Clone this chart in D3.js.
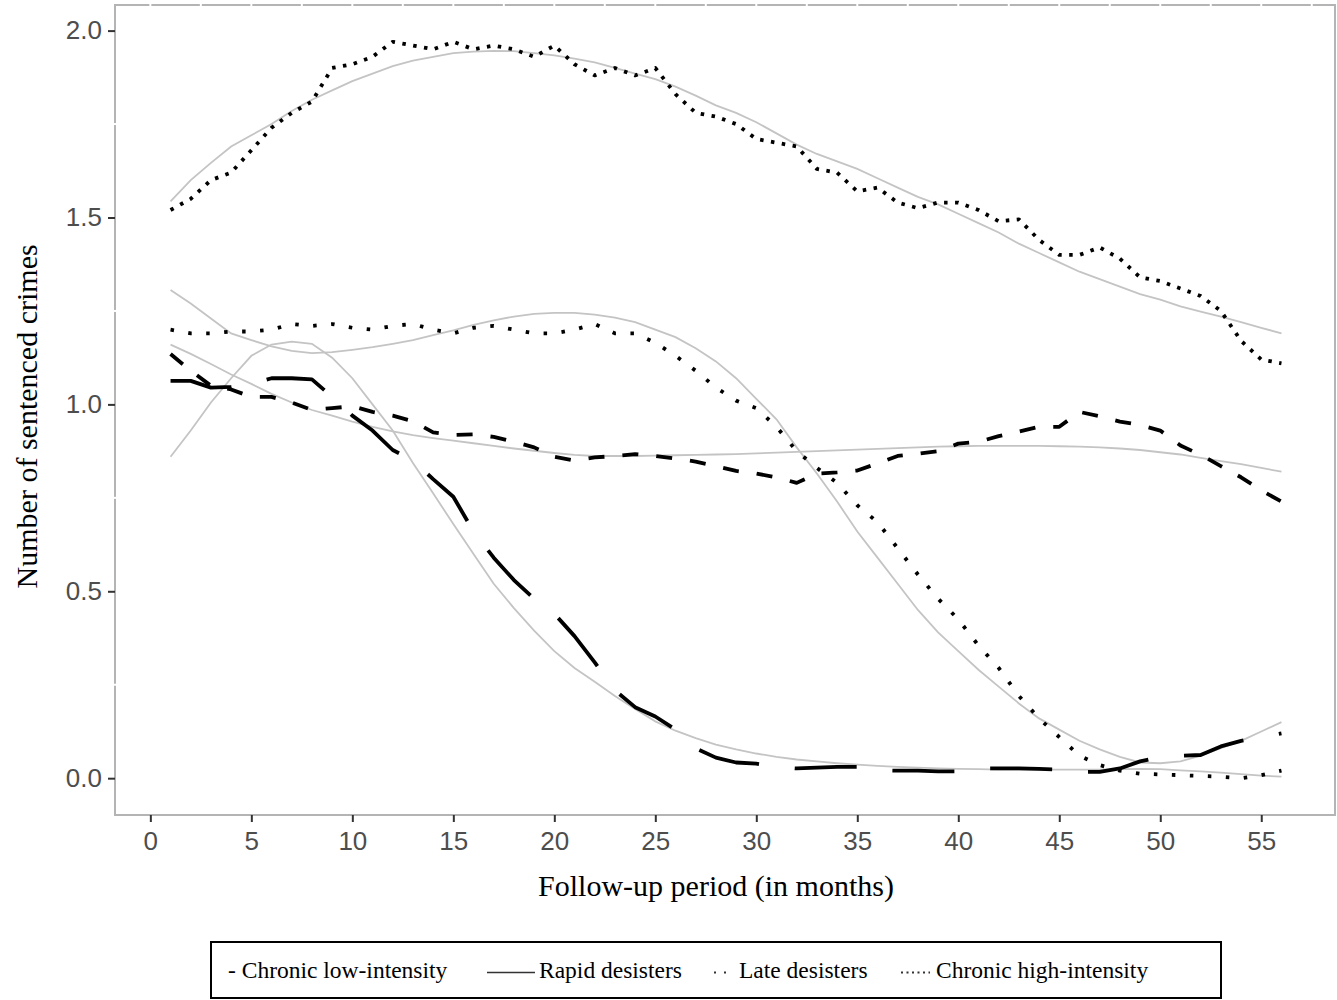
<!DOCTYPE html>
<html>
<head>
<meta charset="utf-8">
<script src="https://cdn.jsdelivr.net/npm/d3@7"></script>
<style>
  body { margin: 0; background: #fff; }
  svg { display: block; }
</style>
</head>
<body>
<svg id="chart" width="1337" height="1000"></svg>
<script>
// Data
const months = [1, 2, 3, 4, 5, 6, 7, 8, 9, 10, 11, 12, 13, 14, 15, 16, 17, 18, 19, 20,
  21, 22, 23, 24, 25, 26, 27, 28, 29, 30, 31, 32, 33, 34, 35, 36, 37, 38, 39, 40,
  41, 42, 43, 44, 45, 46, 47, 48, 49, 50, 51, 52, 53, 54, 55, 56];

const chronicLow = [1.135, 1.09, 1.05, 1.04, 1.02, 1.02, 1.005, 0.985, 0.99, 0.995,
  0.98, 0.97, 0.955, 0.925, 0.918, 0.92, 0.913, 0.90, 0.885, 0.86,
  0.85, 0.858, 0.862, 0.867, 0.862, 0.855, 0.847, 0.835, 0.822, 0.815,
  0.805, 0.79, 0.815, 0.818, 0.823, 0.842, 0.862, 0.868, 0.875, 0.895,
  0.90, 0.915, 0.927, 0.94, 0.94, 0.98, 0.968, 0.954, 0.945, 0.93,
  0.89, 0.865, 0.835, 0.805, 0.77, 0.74];

const rapidDesisters = [1.063, 1.063, 1.045, 1.047, 1.055, 1.07, 1.07, 1.067, 1.02, 0.97,
  0.93, 0.878, 0.85, 0.80, 0.753, 0.66, 0.59, 0.53, 0.48, 0.44,
  0.38, 0.31, 0.235, 0.19, 0.165, 0.13, 0.08, 0.055, 0.042, 0.039,
  0.03, 0.026, 0.028, 0.03, 0.03, 0.021, 0.02, 0.02, 0.018, 0.018,
  0.026, 0.026, 0.026, 0.025, 0.023, 0.017, 0.017, 0.026, 0.045, 0.057,
  0.06, 0.062, 0.085, 0.10, 0.11, 0.12];

const lateDesisters = [1.20, 1.19, 1.19, 1.195, 1.195, 1.20, 1.215, 1.21, 1.215, 1.205,
  1.20, 1.21, 1.215, 1.20, 1.19, 1.205, 1.21, 1.20, 1.19, 1.19,
  1.20, 1.215, 1.19, 1.19, 1.165, 1.13, 1.09, 1.045, 1.01, 0.99,
  0.94, 0.875, 0.83, 0.79, 0.73, 0.685, 0.615, 0.545, 0.48, 0.425,
  0.355, 0.295, 0.22, 0.16, 0.11, 0.06, 0.035, 0.02, 0.012, 0.01,
  0.008, 0.006, 0.004, 0.0, 0.008, 0.02];

const chronicHigh = [1.52, 1.55, 1.60, 1.62, 1.68, 1.74, 1.78, 1.81, 1.90, 1.91,
  1.93, 1.97, 1.96, 1.95, 1.97, 1.95, 1.96, 1.95, 1.93, 1.96,
  1.91, 1.88, 1.90, 1.88, 1.90, 1.83, 1.78, 1.77, 1.75, 1.71,
  1.70, 1.69, 1.63, 1.62, 1.57, 1.58, 1.54, 1.525, 1.54, 1.54,
  1.52, 1.49, 1.495, 1.44, 1.40, 1.40, 1.42, 1.39, 1.34, 1.33,
  1.31, 1.29, 1.25, 1.17, 1.12, 1.11];

// smoothed (gray) fits
const fitLow = [1.16, 1.135, 1.108, 1.08, 1.055, 1.028, 1.005, 0.985, 0.97, 0.954,
  0.94, 0.928, 0.918, 0.91, 0.903, 0.896, 0.889, 0.882, 0.876, 0.87,
  0.865, 0.862, 0.862, 0.862, 0.863, 0.864, 0.865, 0.866, 0.867, 0.869,
  0.871, 0.873, 0.875, 0.877, 0.879, 0.881, 0.883, 0.885, 0.887, 0.888,
  0.889, 0.889, 0.889, 0.889, 0.888, 0.887, 0.885, 0.882, 0.878, 0.872,
  0.866, 0.857, 0.848, 0.84, 0.83, 0.82];

const fitRapid = [0.86, 0.93, 1.005, 1.07, 1.13, 1.16, 1.168, 1.162, 1.125, 1.07,
  1.0, 0.93, 0.843, 0.762, 0.68, 0.60, 0.52, 0.455, 0.395, 0.34,
  0.295, 0.258, 0.22, 0.185, 0.152, 0.127, 0.107, 0.09, 0.077, 0.066,
  0.057, 0.05, 0.045, 0.04, 0.036, 0.033, 0.03, 0.028, 0.026, 0.025,
  0.024, 0.023, 0.023, 0.023, 0.023, 0.023, 0.023, 0.024, 0.025, 0.024,
  0.021, 0.018, 0.015, 0.011, 0.007, 0.004];

const fitLate = [1.306, 1.27, 1.23, 1.19, 1.172, 1.155, 1.143, 1.137, 1.14, 1.146,
  1.153, 1.162, 1.172, 1.185, 1.198, 1.213, 1.225, 1.235, 1.242, 1.245,
  1.245, 1.24, 1.232, 1.22, 1.2, 1.18, 1.15, 1.115, 1.07, 1.015,
  0.96, 0.885, 0.815, 0.74, 0.66, 0.59, 0.52, 0.45, 0.39, 0.34,
  0.29, 0.245, 0.2, 0.16, 0.13, 0.1, 0.077, 0.057, 0.042, 0.04,
  0.045, 0.06, 0.08, 0.1, 0.125, 0.15];

const fitHigh = [1.543, 1.60, 1.646, 1.69, 1.72, 1.75, 1.785, 1.815, 1.84, 1.865,
  1.885, 1.905, 1.92, 1.93, 1.94, 1.944, 1.946, 1.945, 1.94, 1.934,
  1.925, 1.915, 1.90, 1.885, 1.87, 1.85, 1.826, 1.80, 1.78, 1.755,
  1.725, 1.695, 1.67, 1.65, 1.63, 1.605, 1.58, 1.555, 1.535, 1.51,
  1.485, 1.46, 1.43, 1.405, 1.38, 1.355, 1.335, 1.315, 1.295, 1.28,
  1.262, 1.248, 1.235, 1.22, 1.205, 1.19];

const xTicks = [0, 5, 10, 15, 20, 25, 30, 35, 40, 45, 50, 55];
const yTicks = [0, 0.5, 1.0, 1.5, 2.0];

const legendLabels = ["- Chronic low-intensity", "Rapid desisters", "Late desisters", "Chronic high-intensity"];

// Series styles
const series = [
  { name: "Chronic low-intensity", values: chronicLow, dash: "16,18" },
  { name: "Rapid desisters", values: rapidDesisters, dash: "62,36" },
  { name: "Late desisters", values: lateDesisters, dash: "3.5,14.5" },
  { name: "Chronic high-intensity", values: chronicHigh, dash: "3.5,7.5" },
];
const fits = [fitLow, fitRapid, fitLate, fitHigh];

const svg = d3.select("#chart");
const panel = { left: 115, right: 1337, top: 5, bottom: 815 };

const x = d3.scaleLinear().domain([-1.75, 58.75]).range([panel.left, panel.right]);
const y = d3.scaleLinear().domain([-0.0985, 2.0685]).range([panel.bottom, panel.top]);

const sansFont = "'Liberation Sans', Arial, sans-serif";
const serifFont = "'Liberation Serif', 'Times New Roman', serif";

// Panel border (gray)
svg.append("rect")
  .attr("x", panel.left)
  .attr("y", panel.top)
  .attr("width", panel.right - panel.left - 2)
  .attr("height", panel.bottom - panel.top)
  .attr("fill", "none")
  .attr("stroke", "#b4b4b4")
  .attr("stroke-width", 2);

// white gridline gaps showing through the border
const xGrid = d3.range(0, 58, 2.5);
svg.append("g")
  .selectAll("line")
  .data(xGrid)
  .enter()
  .append("line")
  .attr("x1", (d) => x(d))
  .attr("x2", (d) => x(d))
  .attr("y1", panel.top - 2)
  .attr("y2", panel.top + 2)
  .attr("stroke", "#fff")
  .attr("stroke-width", 2);

svg.append("g")
  .selectAll("line")
  .data([0.25, 0.75, 1.25, 1.75])
  .enter()
  .append("line")
  .attr("x1", panel.left - 2)
  .attr("x2", panel.left + 2)
  .attr("y1", (d) => y(d))
  .attr("y2", (d) => y(d))
  .attr("stroke", "#fff")
  .attr("stroke-width", 2);

// Axes
const yAxis = svg.append("g")
  .attr("transform", `translate(${panel.left},0)`)
  .call(d3.axisLeft(y).tickValues(yTicks).tickFormat(d3.format(".1f")).tickSize(7).tickPadding(6));

const xAxis = svg.append("g")
  .attr("transform", `translate(0,${panel.bottom})`)
  .call(d3.axisBottom(x).tickValues(xTicks).tickSize(7).tickPadding(10));

[xAxis, yAxis].forEach((ax) => {
  ax.select(".domain").remove();
  ax.selectAll("line").attr("stroke", "#333").attr("stroke-width", 2);
  ax.selectAll("text")
    .attr("fill", "#4d4d4d")
    .style("font-family", sansFont)
    .style("font-size", "26px");
});

// Axis titles
svg.append("text")
  .attr("x", 716)
  .attr("y", 896)
  .attr("text-anchor", "middle")
  .style("font-family", serifFont)
  .style("font-size", "30px")
  .attr("fill", "#000")
  .text("Follow-up period (in months)");

svg.append("text")
  .attr("transform", `translate(37,${y(1.0) + 12}) rotate(-90)`)
  .attr("text-anchor", "middle")
  .style("font-family", serifFont)
  .style("font-size", "30px")
  .attr("fill", "#000")
  .text("Number of sentenced crimes");

// Lines
const line = d3.line()
  .x((d, i) => x(months[i]))
  .y((d) => y(d));

const plot = svg.append("g");

plot.selectAll(".fit")
  .data(fits)
  .enter()
  .append("path")
  .attr("class", "fit")
  .attr("d", (d) => line(d))
  .attr("fill", "none")
  .attr("stroke", "#c4c4c4")
  .attr("stroke-width", 1.8);

plot.selectAll(".series")
  .data(series)
  .enter()
  .append("path")
  .attr("class", "series")
  .attr("d", (d) => line(d.values))
  .attr("fill", "none")
  .attr("stroke", "#000")
  .attr("stroke-width", 3.8)
  .attr("stroke-dasharray", (d) => d.dash)
  .attr("stroke-linejoin", "round");

// Legend
const legend = svg.append("g");
legend.append("rect")
  .attr("x", 211)
  .attr("y", 942)
  .attr("width", 1010)
  .attr("height", 56)
  .attr("fill", "#fff")
  .attr("stroke", "#000")
  .attr("stroke-width", 2);

const legendY = 972.5;
const legendText = [
  { label: legendLabels[0], x: 228 },
  { label: legendLabels[1], x: 539 },
  { label: legendLabels[2], x: 739 },
  { label: legendLabels[3], x: 936 },
];
legend.selectAll("text")
  .data(legendText)
  .enter()
  .append("text")
  .attr("x", (d) => d.x)
  .attr("y", 978)
  .style("font-family", serifFont)
  .style("font-size", "23.5px")
  .attr("fill", "#000")
  .text((d) => d.label);

// keys
legend.append("line")
  .attr("x1", 487).attr("x2", 535)
  .attr("y1", legendY).attr("y2", legendY)
  .attr("stroke", "#333").attr("stroke-width", 1.5);
legend.append("line")
  .attr("x1", 714).attr("x2", 730)
  .attr("y1", legendY).attr("y2", legendY)
  .attr("stroke", "#333").attr("stroke-width", 2)
  .attr("stroke-dasharray", "2,8");
legend.append("line")
  .attr("x1", 901).attr("x2", 930)
  .attr("y1", legendY).attr("y2", legendY)
  .attr("stroke", "#333").attr("stroke-width", 1.8)
  .attr("stroke-dasharray", "2,3.5");
</script>
</body>
</html>
